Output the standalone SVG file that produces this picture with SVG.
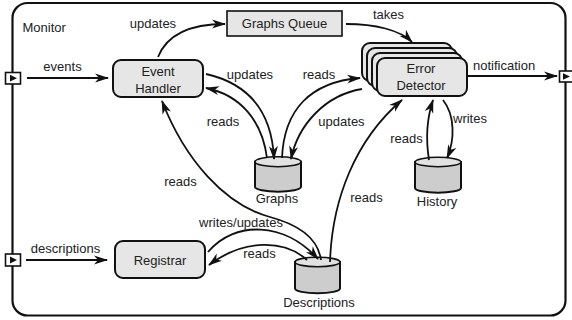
<svg xmlns="http://www.w3.org/2000/svg" width="572" height="320" viewBox="0 0 572 320">
<defs>
<style>
text{font-family:"Liberation Sans",Arial,sans-serif;font-size:13px;fill:#222}
.mid{text-anchor:middle}
.box{fill:#e6e6e6;stroke:#111;stroke-width:2}
.cyl{fill:#cdcdcd;stroke:#111;stroke-width:2}
.cyltop{fill:#e2e2e2;stroke:#111;stroke-width:1.6}
.port{fill:#fff;stroke:#111;stroke-width:1.6}
.edge{fill:none;stroke:#111;stroke-width:1.8;marker-end:url(#ah)}
</style>
<marker id="ah" viewBox="0 0 14 10" refX="13" refY="5" markerWidth="14" markerHeight="10" markerUnits="userSpaceOnUse" orient="auto">
<path d="M0,0.5 L14,5 L0,9.5 L4,5 z" fill="#111"/>
</marker>
</defs>
<rect width="572" height="320" fill="#fff"/>

<g id="monitor">
<rect x="12.5" y="3" width="553" height="312.5" rx="15" fill="none" stroke="#111" stroke-width="2.2"/>
<text x="22.5" y="32">Monitor</text>
</g>

<g id="port-events">
<rect class="port" x="5.5" y="72.5" width="15" height="11.5"/>
<path d="M10,74.8 L17,78.2 L10,81.6 z" fill="#111"/>
</g>
<g id="port-descriptions">
<rect class="port" x="5.5" y="254" width="15" height="12"/>
<path d="M10,256.5 L17,260 L10,263.5 z" fill="#111"/>
</g>
<g id="port-notification">
<rect class="port" x="559.5" y="71" width="14" height="11"/>
<path d="M563,73.3 L570,76.5 L563,79.7 z" fill="#111"/>
</g>

<g id="event-handler">
<rect class="box" x="113" y="60" width="90" height="37" rx="8"/>
<text class="mid" x="158" y="76">Event</text>
<text class="mid" x="158" y="93">Handler</text>
</g>

<g id="graphs-queue">
<rect class="box" x="227" y="11" width="115" height="25" style="stroke-width:1.6"/>
<text class="mid" x="284.5" y="28">Graphs Queue</text>
</g>

<g id="error-detector">
<rect class="box" x="362" y="43" width="90" height="38" rx="8"/>
<rect class="box" x="367" y="48" width="90" height="38" rx="8"/>
<rect class="box" x="372" y="53" width="90" height="38" rx="8"/>
<rect class="box" x="377" y="58" width="90" height="38" rx="8"/>
<text class="mid" x="421" y="73">Error</text>
<text class="mid" x="421" y="89.5">Detector</text>
</g>

<g id="registrar">
<rect class="box" x="115" y="241" width="90" height="37" rx="8"/>
<text class="mid" x="160" y="264.5">Registrar</text>
</g>

<g id="graphs">
<path class="cyl" d="M255,161.7 v25 a23,5 0 0 0 46,0 v-25 z"/>
<ellipse class="cyltop" cx="278" cy="161.7" rx="23" ry="5"/>
<text class="mid" x="277" y="203">Graphs</text>
</g>

<g id="descriptions">
<path class="cyl" d="M295,262 v26.5 a22.5,4.8 0 0 0 45,0 v-26.5 z"/>
<ellipse class="cyltop" cx="317.5" cy="262" rx="22.5" ry="4.8"/>
<text class="mid" x="319" y="306.5">Descriptions</text>
</g>

<g id="history">
<path class="cyl" d="M415,162 v26 a23,4.7 0 0 0 46,0 v-26 z"/>
<ellipse class="cyltop" cx="438" cy="162" rx="23" ry="4.7"/>
<text class="mid" x="437" y="205.5">History</text>
</g>

<g id="connectors">
<path class="edge" d="M27,78 L108,78"/>
<path class="edge" d="M26,260 L107,260"/>
<path class="edge" d="M467,76 L557,76"/>
<path class="edge" d="M158,57 C168,32 195,24 225,24"/>
<path class="edge" d="M346,24 C375,24 400,30 412,42"/>
<path class="edge" d="M206,74 C250,84 272,112 274,159"/>
<path class="edge" d="M267,158 C262,120 240,95 206,88"/>
<path class="edge" d="M282,158 C284,110 310,82 360,78"/>
<path class="edge" d="M362,89 C325,95 298,125 291,159"/>
<path class="edge" d="M321,260 C318,238 300,225 270,217 C225,205 185,160 162,101"/>
<path class="edge" d="M330,262 C332,200 355,140 402,100"/>
<path class="edge" d="M429,160 C425,135 428,115 433,100"/>
<path class="edge" d="M443,100 C455,115 455,140 447,158"/>
<path class="edge" d="M208,252 C235,220 285,222 318,259"/>
<path class="edge" d="M307,260 C285,240 245,238 209,265"/>
<text class="mid" x="62.5" y="71">events</text>
<text class="mid" x="65.5" y="253">descriptions</text>
<text x="473" y="69.5">notification</text>
<text class="mid" x="153" y="28">updates</text>
<text x="373" y="19">takes</text>
<text class="mid" x="250" y="79">updates</text>
<text class="mid" x="223" y="126">reads</text>
<text class="mid" x="319" y="79">reads</text>
<text class="mid" x="341.5" y="126">updates</text>
<text class="mid" x="180.5" y="186">reads</text>
<text class="mid" x="366.5" y="202">reads</text>
<text class="mid" x="406.5" y="143">reads</text>
<text x="453" y="123">writes</text>
<text class="mid" x="241" y="227">writes/updates</text>
<text class="mid" x="259.5" y="258">reads</text>
</g>
</svg>
